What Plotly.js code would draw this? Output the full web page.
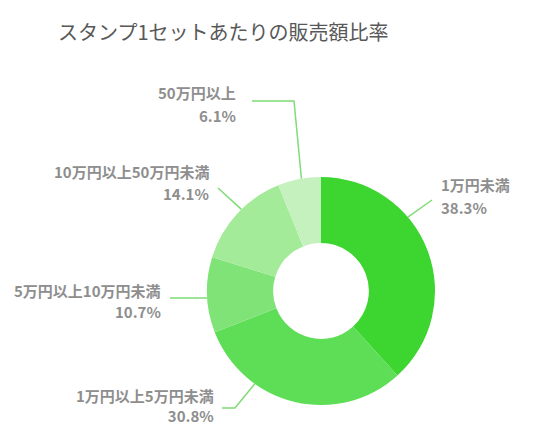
<!DOCTYPE html>
<html><head><meta charset="utf-8">
<script src="https://cdn.plot.ly/plotly-3.0.1.min.js"></script>
<style>html,body{margin:0;padding:0;background:#fff;}#chart{width:556px;height:426px;}</style>
</head><body><div id="chart"></div>
<script>
var categories = ["1万円未満", "1万円以上5万円未満", "5万円以上10万円未満", "10万円以上50万円未満", "50万円以上"];
var shares = [38.3, 30.8, 10.7, 14.1, 6.1];
var colors = ["#3dd530", "#5edd56", "#80e377", "#a3ea99", "#c4f1bd"];
var chartTitle = "スタンプ1セットあたりの販売額比率";

var W = 556, H = 426;
var cx = 321, cy = 291, R = 114;
// label layout (pixels): text anchor, side, leader path, where on slice the leader touches
var labelLayout = [
  {x: 440, y1: 185, y2: 207, side: "left",  path: [[432, 200]], frac: 0.36},
  {x: 215, y: 405, side: "right", path: [[222, 408], [235, 408]], frac: 0.70},
  {x: 162, y1: 290, y2: 311, side: "right", path: [[170, 298], [195, 298]], frac: 0.46},
  {x: 210, y1: 171, y2: 193, side: "right", path: [[218, 188]], frac: 0.56},
  {x: 237, y1: 93,  y2: 115, side: "right", path: [[252, 101], [294, 101]], frac: 0.55}
];

function px(x) { return x / W; }
function py(y) { return 1 - y / H; }

var total = shares.reduce(function(a, b) { return a + b; }, 0);
var annotations = [], shapes = [];
var cum = 0;
var lab = {family: "Noto Sans CJK JP, sans-serif", size: 15, color: "#8e8e8e", weight: "bold"};
shares.forEach(function(v, i) {
  var L = labelLayout[i];
  var f = (cum + v * L.frac) / total;
  cum += v;
  var ang = f * 2 * Math.PI;
  var ax = cx + R * Math.sin(ang), ay = cy - R * Math.cos(ang);
  var pts = L.path.concat([[ax, ay]]);
  var d = pts.map(function(p, k) { return (k ? "L" : "M") + px(p[0]) + "," + py(p[1]); }).join(" ");
  shapes.push({type: "path", xref: "paper", yref: "paper", path: d, line: {color: "#7fdc76", width: 1.5}});
  var pct = v.toFixed(1) + "%";
  if (L.y !== undefined) {
    annotations.push({xref: "paper", yref: "paper", x: px(L.x), y: py(L.y), xanchor: L.side, yanchor: "middle",
      text: categories[i] + "<br>" + pct, align: L.side, showarrow: false, font: lab, borderpad: 0});
  } else {
    annotations.push({xref: "paper", yref: "paper", x: px(L.x), y: py(L.y1), xanchor: L.side, yanchor: "middle",
      text: categories[i], showarrow: false, font: lab, borderpad: 0});
    annotations.push({xref: "paper", yref: "paper", x: px(L.x), y: py(L.y2), xanchor: L.side, yanchor: "middle",
      text: pct, showarrow: false, font: lab, borderpad: 0});
  }
});
annotations.push({xref: "paper", yref: "paper", x: px(56), y: py(31), xanchor: "left", yanchor: "middle",
  text: chartTitle, showarrow: false, font: {family: "Noto Sans CJK JP, sans-serif", size: 20, color: "#585858"}});

var data = [{
  type: "pie", labels: categories, values: shares, sort: false, direction: "clockwise", rotation: 0,
  hole: 0.42, marker: {colors: colors, line: {width: 0}}, textinfo: "none", hoverinfo: "none",
  domain: {x: [px(cx - R), px(cx + R)], y: [py(cy + R), py(cy - R)]}
}];
var layout = {
  width: W, height: H, margin: {l: 0, r: 0, t: 0, b: 0}, showlegend: false,
  paper_bgcolor: "#fff", annotations: annotations, shapes: shapes
};
Plotly.newPlot("chart", data, layout, {staticPlot: true, displayModeBar: false});
</script></body></html>
